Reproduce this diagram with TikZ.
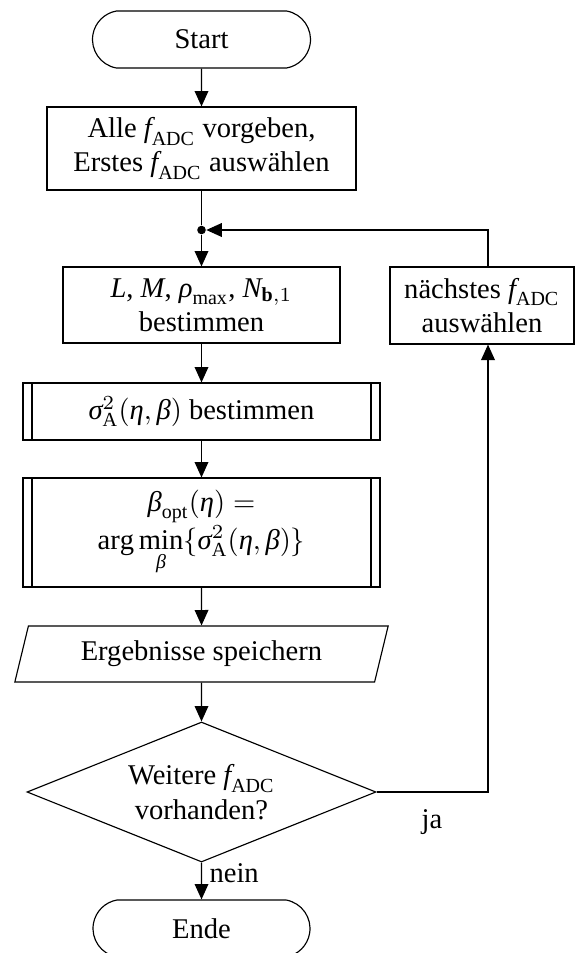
\documentclass[tikz,border=0pt]{standalone}
\usepackage{amsmath}
\usepackage{fontspec}
\setmainfont{Liberation Serif}
\setmathrm{Liberation Serif}
\usetikzlibrary{shapes.geometric,shapes.misc,arrows.meta}

% italic letters (Latin and Greek) taken from the text font
\newcommand\mv[1]{\textit{#1}}
\newcommand\fadc{\mv{f}_{\text{ADC}}}

\begin{document}
\begin{tikzpicture}[x=0.35pt,y=-0.35pt,
  every node/.style={font=\fontsize{10}{12}\selectfont, align=center, inner sep=0pt},
  ln/.style={line width=0.4pt},
  arr/.style={ln,-{Triangle[length=5.4pt,width=4.8pt]}},
  term/.style={draw,ln,rounded rectangle,rounded rectangle arc length=160,
    minimum width=76.3pt,minimum height=19.95pt},
  proc/.style={draw,ln,rectangle},
  predef/.style={proc,
    path picture={\draw[ln]
      ([xshift=3.15pt]path picture bounding box.north west) --
      ([xshift=3.15pt]path picture bounding box.south west)
      ([xshift=-3.15pt]path picture bounding box.north east) --
      ([xshift=-3.15pt]path picture bounding box.south east);}},
  io/.style={draw,ln,trapezium,trapezium left angle=70,trapezium right angle=110,
    trapezium stretches=true,minimum width=131.6pt,minimum height=19.6pt},
  decision/.style={draw,ln,diamond,aspect=2.5,minimum width=122.15pt,minimum height=49pt},
  junction/.style={circle,fill,inner sep=0pt,minimum size=3pt},
]
\useasboundingbox (0,0) rectangle (576,953);

% main column
\node[term] (start) at (201.5,39.5) {Start};
\node[proc,minimum width=108.15pt,minimum height=29.05pt] (b1) at (201.5,148.5)
  {Alle $\fadc$ vorgeben,\\Erstes $\fadc$ auswählen};
\node[junction] (j) at (201.5,230) {};
\node[proc,minimum width=96.95pt,minimum height=26.6pt] (b2) at (201.5,305)
  {$\mv{L}$, $\mv{M}$, $\mv{ρ}_{\max}$, $\mv{N}_{\textbf{b},1}$\\bestimmen};
\node[predef,minimum width=124.95pt,minimum height=19.95pt] (b3) at (201.5,411.5)
  {$\mv{σ}^2_{\text{A}}(\mv{η},\mv{β})$ bestimmen};
\node[predef,minimum width=124.95pt,minimum height=38.15pt] (b4) at (201.5,532.5)
  {$\mv{β}_{\text{opt}}(\mv{η}) =$\\$\arg\min\limits_{\mv{β}}\{\mv{σ}^2_{\text{A}}(\mv{η},\mv{β})\}$};
\node[io] (save) at (201.5,654) {Ergebnisse speichern};
\node[decision] (dec) at (201.5,792) {Weitere $\fadc$\\vorhanden?};
\node[term,minimum width=75.95pt] (end) at (201.5,928.5) {Ende};

% loop branch
\node[proc,minimum width=64.4pt,minimum height=26.95pt] (nx) at (482,305.5)
  {nächstes $\fadc$\\auswählen};
\coordinate (rx) at (488,0);

% labels
\node[anchor=base west] (nein) at (209,882) {nein};
\node[anchor=base west] (ja) at (421,828) {ja};

% connectors
\draw[arr] (start) -- (b1);
\draw[ln] (b1) -- (j);
\draw[arr] (j) -- (b2);
\draw[arr] (b2) -- (b3);
\draw[arr] (b3) -- (b4);
\draw[arr] (b4) -- (save);
\draw[arr] (save) -- (dec);
\draw[arr] (dec) -- (end);
\draw[arr] (dec.east) -| (nx.south -| rx);
\draw[arr] (nx.north -| rx) |- (j);
\end{tikzpicture}
\end{document}
